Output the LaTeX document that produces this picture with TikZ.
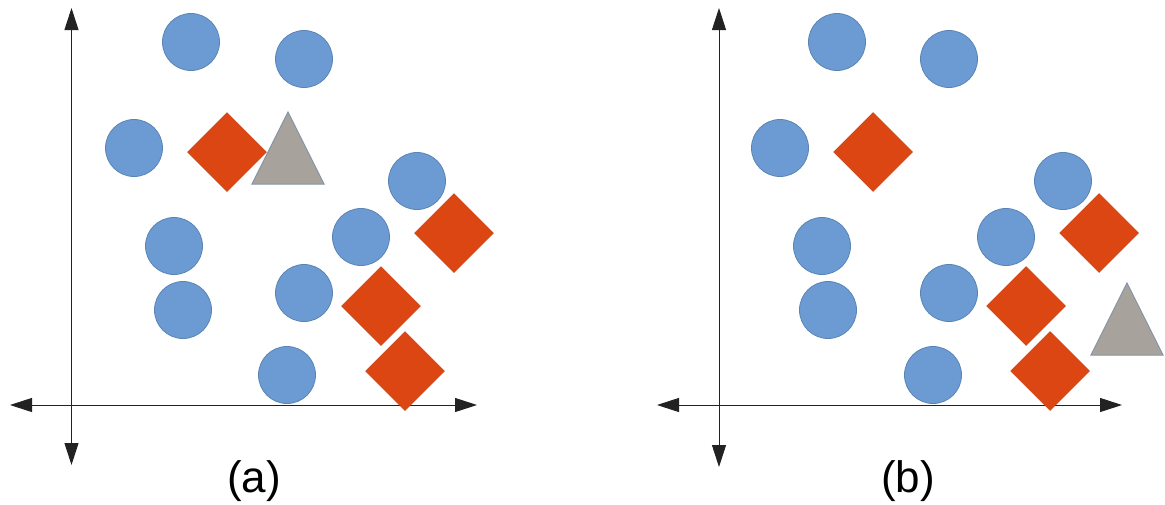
\documentclass[tikz,border=0pt]{standalone}
\usepackage{fontspec}
\setmainfont{Liberation Sans}
\usetikzlibrary{shapes.geometric,arrows.meta}
\definecolor{cfill}{HTML}{6B9BD2}
\definecolor{cline}{HTML}{5A84B5}
\definecolor{dfill}{HTML}{DC4612}
\definecolor{dline}{HTML}{C43E10}
\definecolor{tfill}{HTML}{A8A29C}
\definecolor{tline}{HTML}{8494A6}
\definecolor{axcol}{HTML}{222222}
\tikzset{
  pt/.style={circle, fill=cfill, draw=cline, line width=0.8pt, minimum size=57pt, inner sep=0pt},
  dm/.style={diamond, fill=dfill, draw=dline, line width=0.5pt, minimum width=79pt, minimum height=79pt, inner sep=0pt},
  tri/.style={fill=tfill, draw=tline, line width=1pt, line join=miter},
  axis/.style={draw=axcol, line width=1pt, {Triangle[length=22pt,width=14pt]}-{Triangle[length=22pt,width=14pt]}},
  lab/.style={font=\fontsize{44pt}{48pt}\selectfont, anchor=base, inner sep=0pt}
}
\begin{document}
\begin{tikzpicture}[x=1pt,y=-1pt]
\useasboundingbox[fill=white] (0,0) rectangle (1165,504);
% ---------- panel (a)
\coordinate (aT) at (71.5,8);
\coordinate (aB) at (71.5,465);
\coordinate (aL) at (10,405);
\coordinate (aR) at (477,405);
\draw[axis] (aT) -- (aB);
\draw[axis] (aL) -- (aR);
\node[pt] (a1) at (191,42) {};
\node[pt] (a2) at (304,59) {};
\node[pt] (a3) at (134,148) {};
\node[pt] (a4) at (174,246) {};
\node[pt] (a5) at (183,310) {};
\node[pt] (a6) at (304,293) {};
\node[pt] (a7) at (287,375) {};
\node[pt] (a8) at (361,237) {};
\node[pt] (a9) at (417,181) {};
\node[dm] (ad1) at (227,152) {};
\node[dm] (ad2) at (454,233) {};
\node[dm] (ad3) at (381,306) {};
\node[dm] (ad4) at (405,371) {};
\coordinate (atA) at (288,112);
\coordinate (atL) at (252,184);
\coordinate (atR) at (324,184);
\draw[tri] (atA) -- (atL) -- (atR) -- cycle;
\node[lab] (la) at (254,492) {(a)};
% ---------- panel (b)
\coordinate (bT) at (719,8);
\coordinate (bB) at (719,467);
\coordinate (bL) at (657,405);
\coordinate (bR) at (1122,405);
\draw[axis] (bT) -- (bB);
\draw[axis] (bL) -- (bR);
\node[pt] (b1) at (837,42) {};
\node[pt] (b2) at (949,59) {};
\node[pt] (b3) at (780,148) {};
\node[pt] (b4) at (822,246) {};
\node[pt] (b5) at (828,310) {};
\node[pt] (b6) at (949,293) {};
\node[pt] (b7) at (933,375) {};
\node[pt] (b8) at (1006,237) {};
\node[pt] (b9) at (1063,181) {};
\node[dm] (bd1) at (873,152) {};
\node[dm] (bd2) at (1099,233) {};
\node[dm] (bd3) at (1026,306) {};
\node[dm] (bd4) at (1050,371) {};
\coordinate (btA) at (1127,283);
\coordinate (btL) at (1091,355);
\coordinate (btR) at (1163,355);
\draw[tri] (btA) -- (btL) -- (btR) -- cycle;
\node[lab] (lb) at (908,492) {(b)};
\end{tikzpicture}
\end{document}
